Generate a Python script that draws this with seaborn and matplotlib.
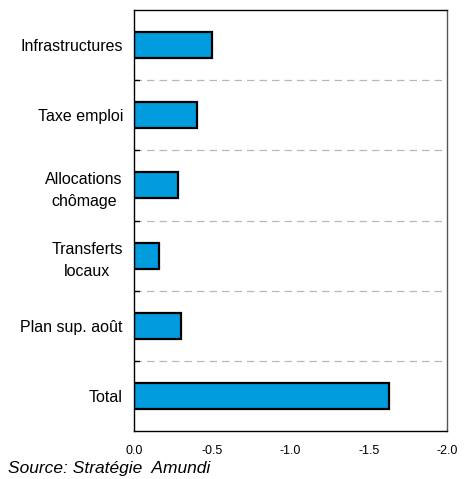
import matplotlib
matplotlib.use("Agg")
import matplotlib.pyplot as plt
import seaborn as sns
import pandas as pd
import numpy as np

categories = ["Infrastructures", "Taxe emploi", "Allocations\nchômage",
              "Transferts\nlocaux", "Plan sup. août", "Total"]
values = [-0.50, -0.40, -0.28, -0.16, -0.30, -1.63]
xticks = [0.0, -0.5, -1.0, -1.5, -2.0]
xticklabels = ["0.0", "-0.5", "-1.0", "-1.5", "-2.0"]

sns.set_style("white")
plt.rcParams['font.family'] = ['Liberation Sans', 'DejaVu Sans']
plt.rcParams['text.color'] = 'black'
plt.rcParams['xtick.color'] = 'black'
plt.rcParams['ytick.color'] = 'black'

df = pd.DataFrame({"cat": categories, "val": values})

fig = plt.figure(figsize=(4.69, 4.79), dpi=100)
ax = fig.add_axes([0.2857, 0.1002, 0.953 - 0.2857, 0.979 - 0.1002])

sns.barplot(data=df, y="cat", x="val", orient="h", color="#009CDE",
            saturation=1, width=0.37, edgecolor="black", linewidth=1.6, ax=ax)

ax.set_xlim(0, -2.0)
ax.set_ylim(len(categories) - 0.5, -0.5)
ax.set_xticks(xticks)
ax.set_xticklabels(xticklabels, fontsize=9)
ax.set_xlabel("")
ax.set_ylabel("")
ax.tick_params(axis="y", length=0, labelsize=11.5, pad=8, labelcolor="black")
for t in ax.get_yticklabels():
    t.set_multialignment("center")
    t.set_linespacing(1.55)
ax.tick_params(axis="x", direction="out", length=4, width=1, color="black",
               pad=6, labelcolor="black")

# separators between categories
seps = np.arange(0.5, len(categories) - 0.5, 1.0)
for s in seps:
    ax.axhline(s, color="#b8b8b8", linestyle=(0, (6, 4)), linewidth=0.9, zorder=0)
    ax.plot([0, -0.035], [s, s], color="black", linewidth=1, zorder=3)

for side in ["left", "bottom", "top"]:
    ax.spines[side].set_visible(True)
    ax.spines[side].set_color("black")
    ax.spines[side].set_linewidth(1)
ax.spines["right"].set_visible(True)
ax.spines["right"].set_color("#555555")
ax.spines["right"].set_linewidth(1)

fig.text(0.017, 0.006, "Source: Stratégie  Amundi", fontsize=12.5, style="italic",
         ha="left", va="bottom", color="black")

fig.savefig("out.png", dpi=100)
